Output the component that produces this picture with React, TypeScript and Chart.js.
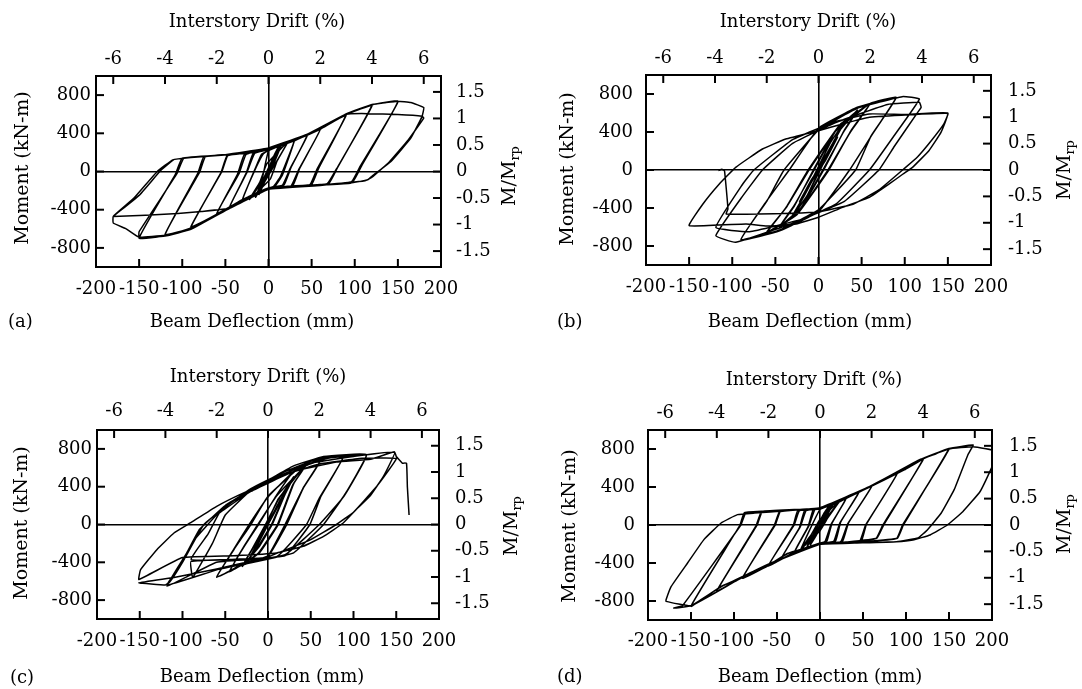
import React, { useEffect, useRef } from 'react';
import { Chart, registerables } from 'chart.js';

Chart.register(...registerables);

// ---------- tick values ----------
const deflTicks = [-200, -150, -100, -50, 0, 50, 100, 150, 200];
const driftTicks = [-6, -4, -2, 0, 2, 4, 6];
const momentTicks = [-800, -400, 0, 400, 800];
const ratioTicks = [-1.5, -1, -0.5, 0, 0.5, 1, 1.5];

// ---------- hysteresis data: [beam deflection (mm), moment (kN-m)] ----------
const loopA: number[][] = [
  [0, 0], [5, 130], [11, 245], [5, 100], [-5, -110], [-11, -235], [-5, -90], [5, 140], [11, 250], [4, 60], [-11, -240],
  [15, 275], [6, 100], [-6, -120], [-15, -265], [-6, -80], [6, 150], [15, 282], [5, 60], [-15, -270],
  [22, 300], [10, 110], [2, -80], [-22, -290], [-10, -110], [-2, 80], [22, 306], [9, 100], [-22, -292], [-8, -100],
  [0, 215], [15, 278], [30, 330], [16, -40], [8, -150], [0, -175], [-15, -232], [-30, -295], [-15, 40], [-8, 182],
  [0, 218], [15, 276], [30, 326], [14, -50], [6, -155], [0, -178], [-15, -234], [-30, -292], [-14, 50], [-6, 186],
  [0, 225], [22, 300], [45, 386], [26, 40], [18, -140], [0, -172], [-22, -260], [-45, -375], [-26, -20], [-18, 186],
  [0, 228], [22, 296], [45, 378], [25, 30], [16, -146], [0, -174], [-22, -258], [-45, -370], [-25, -10], [-16, 190],
  [0, 232], [30, 325], [60, 445], [36, 30], [28, -150], [0, -176], [-30, -292], [-60, -446], [-36, -30], [-28, 176],
  [0, 235], [30, 322], [60, 440], [35, 20], [26, -153], [0, -178], [-30, -294], [-60, -440], [-34, -20], [-26, 178],
  [0, 237], [30, 330], [60, 446], [90, 598], [58, 30], [50, -136], [20, -156], [0, -180], [-30, -296], [-60, -448], [-90, -586], [-55, -10], [-48, 166], [-15, 202],
  [0, 238], [30, 326], [60, 442], [90, 590], [56, 20], [48, -138], [20, -158], [0, -181], [-30, -298], [-60, -450], [-90, -580], [-54, 0], [-47, 168], [-15, 204],
  [0, 240], [45, 385], [90, 600], [120, 697], [80, 40], [70, -125], [35, -150], [0, -181], [-45, -376], [-90, -592], [-120, -665], [-82, -20], [-75, 153], [-40, 181],
  [0, 241], [45, 383], [90, 596], [120, 690], [79, 30], [68, -128], [35, -152], [0, -182], [-45, -378], [-90, -594], [-120, -660], [-80, -10], [-73, 156], [-40, 183],
  [0, 242], [45, 388], [90, 600], [120, 700], [150, 735], [108, 60], [98, -104], [65, -138], [30, -158], [0, -182], [-45, -380], [-90, -602], [-120, -672], [-150, -697], [-108, -30], [-100, 138], [-50, 175],
  [0, 244], [45, 386], [90, 598], [120, 698], [150, 728], [106, 50], [96, -110], [60, -142], [0, -184], [-45, -382], [-90, -606], [-120, -676], [-150, -690], [-150, -630], [-106, -20], [-98, 140], [-50, 176],
  [0, 245], [45, 390], [90, 602], [120, 702], [150, 736], [165, 722], [180, 670], [178, 575], [165, 349], [142, 105], [122, -35], [115, -87], [95, -122], [65, -140], [34, -158], [0, -186],
  [-45, -385], [-90, -605], [-120, -668], [-150, -688], [-165, -600], [-180, -540], [-180, -470], [-156, -279], [-129, 0], [-111, 122], [-90, 146], [-51, 174], [-13, 209],
  [0, 246], [45, 390], [90, 600], [115, 606], [150, 596], [178, 578], [180, 560], [162, 330], [140, 100], [120, -60], [112, -98], [60, -146], [0, -186],
  [-45, -385], [-78, -418], [-105, -440], [-180, -472], [-178, -455], [-150, -250], [-125, 10], [-110, 125],
];

const loopB: number[][] = [
  [0, 0], [6, 90], [11, 170], [4, 50], [-6, -90], [-11, -165], [-4, -50], [6, 100], [11, 172], [-11, -168],
  [15, 240], [5, 70], [-6, -95], [-15, -232], [-5, -70], [6, 100], [15, 244], [-15, -236],
  [22, 345], [8, 100], [-8, -120], [-22, -332], [-8, -100], [8, 120], [22, 348], [-22, -336],
  [30, 500], [18, 300], [2, 0], [-14, -280], [-30, -478], [-18, -290], [-2, 0], [14, 290], [30, 505], [17, 290], [1, 0], [-14, -285], [-30, -482], [-17, -280], [-1, 0], [14, 300],
  [45, 630], [30, 420], [6, 0], [-20, -400], [-45, -600], [-28, -380], [-6, 0], [20, 420], [45, 625], [29, 400], [5, 0], [-20, -395], [-45, -595], [-28, -370], [-5, 0], [20, 410],
  [60, 700], [38, 420], [12, 0], [-25, -470], [-60, -660], [-38, -400], [-12, 0], [25, 480], [60, 695], [37, 400], [11, 0], [-25, -465], [-60, -655], [-37, -390], [-11, 0], [25, 475],
  [60, 700], [90, 765], [62, 370], [36, 0], [0, -440], [-45, -640], [-90, -740], [-62, -350], [-34, 0], [0, 440], [45, 660], [90, 760], [61, 360], [43, 0], [0, -420], [-45, -630], [-90, -730], [-60, -330], [-40, 0], [0, 420], [45, 650],
  [97, 772], [117, 747], [86, 340], [59, 0], [20, -360], [-30, -560], [-96, -761], [-119, -691], [-90, -300], [-65, 0], [-30, 280], [20, 500], [80, 690], [117, 712], [119, 660], [115, 607],
  [88, 250], [70, 0], [30, -330], [-20, -520], [-80, -650], [-119, -604], [-88, -150], [-75, 0], [-30, 320], [20, 510], [59, 590],
  [100, 585], [150, 600], [142, 396], [128, 203], [109, 28], [98, -42], [82, -147], [59, -288], [28, -393], [0, -498], [-26, -568], [-60, -590], [-84, -568], [-150, -586],
  [-134, -358], [-115, -147], [-96, 28], [-65, 221], [-38, 326], [0, 414], [28, 484], [59, 554], [150, 596], [145, 480], [130, 300], [115, 140], [100, 20], [70, -210], [40, -360], [0, -440],
  [-30, -455], [-107, -463], [-105, -410], [-109, -7], [-112, 8], [-116, -5],
];

const loopC: number[][] = [
  [0, 0], [6, 110], [11, 200], [-11, -190], [11, 205], [-11, -195],
  [15, 270], [-15, -260], [15, 275], [-15, -262],
  [22, 380], [8, 130], [-22, -360], [-8, -120], [22, 385], [-22, -365],
  [30, 500], [20, 320], [5, 0], [-10, -230], [-30, -440], [-18, -250], [-3, 0], [12, 260], [30, 505], [19, 310], [4, 0], [-12, -240], [-30, -445], [-17, -240], [-2, 0], [12, 270],
  [45, 640], [30, 430], [12, 0], [-10, -300], [-45, -500], [-28, -230], [-12, 0], [10, 300], [45, 635], [29, 420], [11, 0], [-12, -310], [-45, -495], [-27, -220], [-11, 0], [10, 310],
  [30, 560], [62, 690], [42, 400], [20, 0], [0, -330], [-30, -420], [-60, -560], [-40, -260], [-22, 0], [0, 290], [30, 560], [62, 685], [41, 380], [22, 0], [0, -340], [-30, -430], [-60, -555], [-38, -240], [-20, 0], [0, 300],
  [45, 660], [88, 720], [62, 300], [49, 0], [20, -330], [-20, -360], [-90, -372], [-70, -100], [-55, 150], [-20, 380], [20, 560], [60, 700], [88, 715], [60, 280], [45, 0], [10, -340], [-90, -390], [-88, -560], [-65, -200], [-50, 100], [-20, 360], [30, 620],
  [65, 720], [115, 739], [90, 320], [65, 0], [30, -300], [0, -360], [-60, -400], [-118, -652], [-95, -300], [-80, -50], [-50, 200], [-10, 420], [30, 580], [70, 700], [115, 730], [89, 300], [60, 0], [20, -320], [-60, -480], [-118, -640], [-100, -400], [-75, 0], [-40, 250], [0, 450], [45, 640],
  [100, 720], [148, 764], [135, 509], [119, 298], [103, 157], [88, 16], [65, -125], [41, -231], [10, -301], [-40, -330], [-100, -350], [-151, -582], [-149, -478], [-130, -266], [-110, -90], [-91, 16], [-60, 192], [-33, 316], [-2, 439], [26, 545], [60, 640], [110, 700], [150, 700],
  [140, 560], [125, 380], [100, 130], [80, 0], [50, -160], [0, -340], [-60, -470], [-110, -560], [-151, -617], [-120, -640], [-115, -610], [-100, -400], [-85, -150], [-60, 100], [-20, 350], [30, 560], [80, 660], [120, 690], [148, 770], [150, 720], [157, 650], [162, 648], [163, 400], [165, 100],
];

const loopD: number[][] = [
  [0, 0], [5, 120], [11, 200], [4, 40], [-5, -120], [-11, -205], [-4, -40], [5, 130], [11, 205], [-11, -210],
  [15, 215], [5, 60], [-6, -110], [-15, -225], [-5, -50], [6, 120], [15, 218], [-15, -228],
  [22, 240], [10, 90], [0, -60], [-22, -250], [-10, -100], [0, 60], [22, 244], [-22, -254],
  [0, 165], [15, 215], [30, 275], [14, 20], [8, -170], [0, -190], [-15, -238], [-30, -290], [-14, -20], [-8, 160],
  [0, 168], [15, 218], [30, 272], [13, 10], [6, -172], [0, -192], [-15, -240], [-30, -292], [-13, -10], [-6, 162],
  [0, 170], [22, 245], [45, 345], [24, 30], [18, -170], [0, -192], [-22, -255], [-45, -355], [-24, -30], [-18, 150],
  [0, 172], [22, 242], [45, 340], [23, 20], [16, -172], [0, -194], [-22, -258], [-45, -352], [-23, -20], [-16, 152],
  [0, 172], [30, 280], [60, 410], [33, 20], [26, -175], [0, -195], [-30, -285], [-60, -430], [-31, 0], [-26, 148],
  [0, 174], [30, 278], [60, 405], [32, 10], [24, -178], [0, -196], [-30, -288], [-60, -428], [-30, 0], [-24, 150],
  [0, 175], [45, 345], [90, 550], [54, 10], [48, -170], [20, -185], [0, -198], [-38, -300], [-60, -425], [-90, -560], [-53, 0], [-47, 140], [-15, 165],
  [0, 176], [45, 343], [90, 545], [53, 0], [46, -172], [20, -187], [0, -199], [-38, -302], [-60, -428], [-90, -556], [-52, 0], [-46, 142], [-15, 167],
  [0, 177], [59, 407], [98, 583], [120, 695], [74, 0], [66, -140], [30, -180], [0, -200], [-57, -400], [-96, -575], [-120, -700], [-74, 0], [-68, 140], [-30, 160],
  [0, 178], [59, 405], [98, 580], [120, 690], [73, 0], [65, -142], [30, -182], [0, -200], [-57, -402], [-96, -578], [-120, -695], [-73, 0], [-67, 142], [-30, 162],
  [0, 179], [59, 407], [98, 583], [117, 688], [135, 750], [150, 805], [97, 0], [90, -140], [50, -175], [0, -201], [-57, -400], [-96, -575], [-115, -646], [-150, -856], [-93, 0], [-88, 130], [-50, 150],
  [0, 180], [59, 405], [117, 685], [150, 800], [96, 0], [89, -142], [50, -177], [0, -202], [-57, -403], [-115, -650], [-150, -850], [-170, -874], [-160, -850], [-92, 0], [-86, 132], [-50, 152],
  [0, 180], [59, 407], [117, 690], [150, 805], [178, 842], [172, 740], [156, 372], [141, 126], [125, -49], [114, -137], [89, -176], [40, -190], [0, -203], [-57, -405], [-96, -580], [-150, -850],
  [-179, -804], [-179, -786], [-173, -646], [-154, -400], [-135, -154], [-115, 21], [-96, 109], [-76, 126], [-40, 150], [0, 182],
  [59, 410], [117, 692], [150, 800], [178, 824], [207, 772], [201, 632], [186, 350], [166, 140], [148, 0], [128, -105], [108, -158], [89, -176], [50, -185],
];

// ---------- layout (page coordinates) ----------
type Panel = {
  x0: number; y0: number; w: number; h: number;
  area: number[]; // left, top, right, bottom of plot frame
  data: number[][];
  padLeft: number; padRight: number; padTop: number; padBottom: number;
  topTitle: number[]; bottomTitle: number[]; leftTitle: number[]; rightTitle: number[];
  letter: string; letterPos: number[];
};

const FONT = "'DejaVu Serif', 'Liberation Serif', serif";
const MOMENT_RANGE = 1000;
const RATIO_RANGE = 1.8;
const DEFL_RANGE = 200;
const DRIFT_PER_MM = 1 / 30;

const panels: Panel[] = [
  {
    x0: 0, y0: 0, w: 541, h: 345, area: [96, 76, 441, 267], data: loopA,
    padLeft: 5, padRight: 15, padTop: 6, padBottom: 12,
    topTitle: [257, 22], bottomTitle: [252, 322], leftTitle: [23, 168], rightTitle: [510, 176],
    letter: '(a)', letterPos: [8, 322],
  },
  {
    x0: 541, y0: 0, w: 541, h: 345, area: [646, 75, 991, 265], data: loopB,
    padLeft: 13, padRight: 17, padTop: 6, padBottom: 12,
    topTitle: [808, 22], bottomTitle: [810, 322], leftTitle: [568, 169], rightTitle: [1065, 170],
    letter: '(b)', letterPos: [557, 322],
  },
  {
    x0: 0, y0: 345, w: 541, h: 344, area: [97, 430, 439, 619], data: loopC,
    padLeft: 5, padRight: 16, padTop: 8, padBottom: 12,
    topTitle: [258, 377], bottomTitle: [262, 677], leftTitle: [22, 523], rightTitle: [512, 526],
    letter: '(c)', letterPos: [10, 678],
  },
  {
    x0: 541, y0: 345, w: 541, h: 344, area: [648, 430, 992, 620], data: loopD,
    padLeft: 13, padRight: 17, padTop: 6, padBottom: 11,
    topTitle: [814, 380], bottomTitle: [820, 677], leftTitle: [570, 526], rightTitle: [1065, 524],
    letter: '(d)', letterPos: [557, 677],
  },
];

const innerTicks = {
  id: 'innerTicks',
  afterDatasetsDraw(chart: any) {
    const { ctx, chartArea: a, scales } = chart;
    const L = 8;
    ctx.save();
    ctx.strokeStyle = '#000';
    ctx.lineWidth = 2;
    const seg = (x1: number, y1: number, x2: number, y2: number) => {
      ctx.beginPath(); ctx.moveTo(x1, y1); ctx.lineTo(x2, y2); ctx.stroke();
    };
    deflTicks.forEach((v) => { const p = scales.x.getPixelForValue(v); seg(p, a.bottom, p, a.bottom - L); });
    driftTicks.forEach((v) => { const p = scales.x2.getPixelForValue(v); seg(p, a.top, p, a.top + L); });
    momentTicks.forEach((v) => { const p = scales.y.getPixelForValue(v); seg(a.left, p, a.left + L, p); });
    ratioTicks.forEach((v) => { const p = scales.y2.getPixelForValue(v); seg(a.right, p, a.right - L, p); });
    ctx.restore();
  },
};

function textPlugin(p: Panel) {
  return {
    id: 'panelTexts',
    afterDraw(chart: any) {
      const ctx = chart.ctx as CanvasRenderingContext2D;
      const lx = (x: number) => x - p.x0;
      const ly = (y: number) => y - p.y0;
      ctx.save();
      ctx.fillStyle = '#000';
      ctx.textBaseline = 'middle';
      ctx.textAlign = 'center';
      ctx.font = `18px ${FONT}`;
      ctx.fillText('Interstory Drift (%)', lx(p.topTitle[0]), ly(p.topTitle[1]));
      ctx.fillText('Beam Deflection (mm)', lx(p.bottomTitle[0]), ly(p.bottomTitle[1]));
      ctx.textAlign = 'left';
      ctx.fillText(p.letter, lx(p.letterPos[0]), ly(p.letterPos[1]));
      // left title
      ctx.save();
      ctx.translate(lx(p.leftTitle[0]), ly(p.leftTitle[1]));
      ctx.rotate(-Math.PI / 2);
      ctx.textAlign = 'center';
      ctx.font = `19px ${FONT}`;
      ctx.fillText('Moment (kN-m)', 0, 0);
      ctx.restore();
      // right title with subscript
      ctx.save();
      ctx.translate(lx(p.rightTitle[0]), ly(p.rightTitle[1]));
      ctx.rotate(-Math.PI / 2);
      ctx.textAlign = 'left';
      ctx.font = `19px ${FONT}`;
      const main = 'M/M';
      const w1 = ctx.measureText(main).width;
      ctx.font = `13px ${FONT}`;
      const sub = 'rp';
      const w2 = ctx.measureText(sub).width;
      const start = -(w1 + w2) / 2;
      ctx.font = `19px ${FONT}`;
      ctx.fillText(main, start, 0);
      ctx.font = `13px ${FONT}`;
      ctx.fillText(sub, start + w1, 6);
      ctx.restore();
      ctx.restore();
    },
  };
}

function PanelChart({ p }: { p: Panel }) {
  const ref = useRef<HTMLCanvasElement | null>(null);
  useEffect(() => {
    const canvas = ref.current;
    if (!canvas) return;
    const L = p.area[0] - p.x0;
    const T = p.area[1] - p.y0;
    const R = p.area[2] - p.x0;
    const B = p.area[3] - p.y0;
    const font = { family: FONT, size: 18 };
    const zeroGrid = {
      color: (c: any) => (c.tick && c.tick.value === 0 ? '#000' : 'rgba(0,0,0,0)'),
      lineWidth: 1.6,
      drawTicks: false,
    };
    const border = { display: true, color: '#000', width: 2 };
    const setTicks = (vals: number[]) => (s: any) => { s.ticks = vals.map((v) => ({ value: v })); };
    const chart = new Chart(canvas, {
      type: 'scatter',
      data: {
        datasets: [
          {
            data: p.data.map(([x, y]) => ({ x, y })),
            showLine: true,
            borderColor: '#000',
            borderWidth: 1.5,
            pointRadius: 0,
            tension: 0.1,
            fill: false,
            xAxisID: 'x',
            yAxisID: 'y',
          } as any,
        ],
      },
      options: {
        animation: false,
        responsive: false,
        devicePixelRatio: 1,
        events: [],
        layout: { padding: 0 },
        plugins: { legend: { display: false }, tooltip: { enabled: false }, title: { display: false } },
        scales: {
          x: {
            type: 'linear', position: 'bottom', min: -DEFL_RANGE, max: DEFL_RANGE,
            afterBuildTicks: setTicks(deflTicks),
            afterFit: (s: any) => { s.height = p.h - B; },
            ticks: { font, color: '#000', padding: p.padBottom, autoSkip: false, maxRotation: 0, minRotation: 0, callback: (v: any) => String(v) },
            grid: zeroGrid, border,
          },
          x2: {
            type: 'linear', position: 'top', min: -DEFL_RANGE * DRIFT_PER_MM, max: DEFL_RANGE * DRIFT_PER_MM,
            afterBuildTicks: setTicks(driftTicks),
            afterFit: (s: any) => { s.height = T; },
            ticks: { font, color: '#000', padding: p.padTop, autoSkip: false, maxRotation: 0, minRotation: 0, callback: (v: any) => String(v) },
            grid: { display: false, drawTicks: false }, border,
          },
          y: {
            type: 'linear', position: 'left', min: -MOMENT_RANGE, max: MOMENT_RANGE,
            afterBuildTicks: setTicks(momentTicks),
            afterFit: (s: any) => { s.width = L; },
            ticks: { font, color: '#000', padding: p.padLeft, autoSkip: false, callback: (v: any) => String(v) },
            grid: zeroGrid, border,
          },
          y2: {
            type: 'linear', position: 'right', min: -RATIO_RANGE, max: RATIO_RANGE,
            afterBuildTicks: setTicks(ratioTicks),
            afterFit: (s: any) => { s.width = p.w - R; },
            ticks: { font, color: '#000', padding: p.padRight, autoSkip: false, callback: (v: any) => String(v) },
            grid: { display: false, drawTicks: false }, border,
          },
        },
      } as any,
      plugins: [innerTicks, textPlugin(p)],
    });
    return () => chart.destroy();
  }, [p]);
  return (
    <canvas
      ref={ref}
      width={p.w}
      height={p.h}
      style={{ position: 'absolute', left: p.x0, top: p.y0, width: p.w, height: p.h }}
    />
  );
}

export default function App() {
  useEffect(() => {
    document.body.style.margin = '0';
    document.body.style.background = '#fff';
  }, []);
  return (
    <div style={{ position: 'relative', width: 1082, height: 689, background: '#fff', overflow: 'hidden' }}>
      {panels.map((p, i) => (
        <PanelChart key={i} p={p} />
      ))}
    </div>
  );
}
